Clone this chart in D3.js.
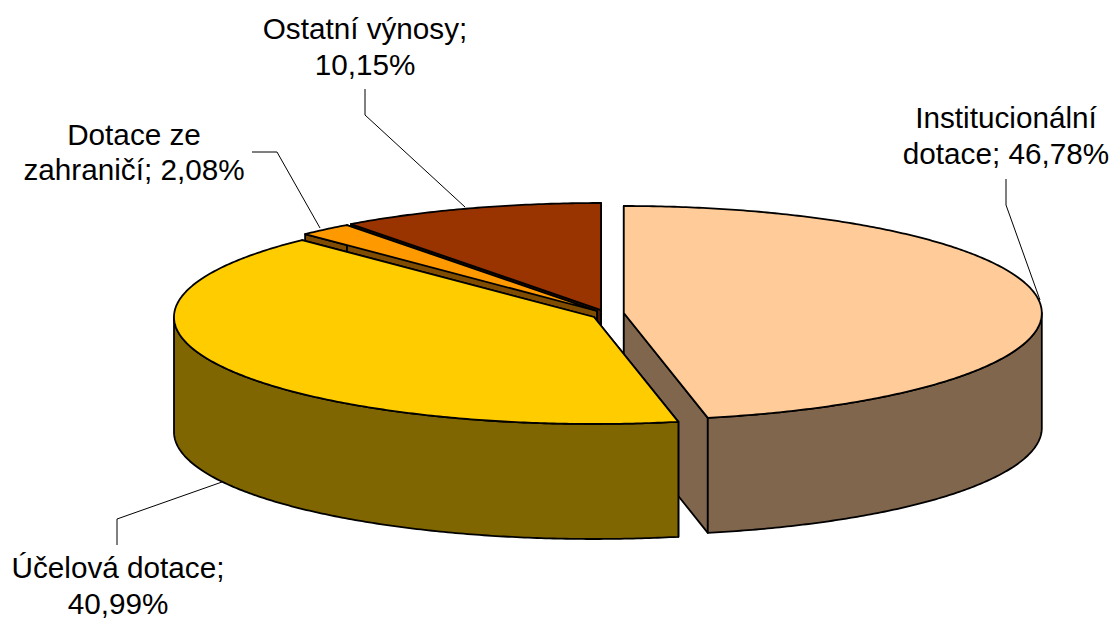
<!DOCTYPE html>
<html>
<head>
<meta charset="utf-8">
<script src="https://cdn.jsdelivr.net/npm/d3@7"></script>
<style>
  html, body { margin: 0; padding: 0; background: #fff; }
  svg { display: block; }
  text { font-family: "Liberation Sans", Arial, sans-serif; font-size: 29.7px; fill: #000; }
</style>
</head>
<body>
<svg width="1113" height="620"></svg>
<script>
var categories = ["Institucionální dotace", "Účelová dotace", "Dotace ze zahraničí", "Ostatní výnosy"];
var shares = [46.78, 40.99, 2.08, 10.15];
var topColors = ["#FFCC99", "#FFCC00", "#FF9900", "#993300"];
var sideColors = ["#80664D", "#806600", "#804D00", "#4C1900"];
var labelLines = [
  ["Institucionální", "dotace; 46,78%"],
  ["Účelová dotace;", "40,99%"],
  ["Dotace ze", "zahraničí; 2,08%"],
  ["Ostatní výnosy;", "10,15%"]
];

// layout, per slice (exploded centres, radii, label anchors, leader lines)
var centers = [[623.8, 313], [594, 317], [597, 311], [601, 310]];
var radiiX = [418, 420, 420, 420];
var labelPos = [[1006, 128], [118, 578], [134, 144.5], [365, 39]];
var leaders = [
  [[1006, 179], [1006, 205], [1040, 300]],
  [[117, 545], [117, 519], [222, 482]],
  [[252, 152], [277, 152], [320, 228]],
  [[365, 89], [365, 115], [465, 207]]
];
var ry = 107, depth = 115;
// back slices first, the yellow one sits over the cut face of the first slice
var drawOrder = [3, 2, 0, 1];

var svg = d3.select("svg");

var pie = d3.pie().sort(null).value(function(d) { return d; });
var arcs = pie(shares);

var line = d3.line();

function pt(i, a, dy) {
  return [centers[i][0] + radiiX[i] * Math.sin(a), centers[i][1] - ry * Math.cos(a) + (dy || 0)];
}

function arcPoints(i, a0, a1, dy) {
  var n = Math.max(2, Math.ceil(Math.abs(a1 - a0) / 0.01));
  return d3.range(n + 1).map(function(k) {
    return pt(i, a0 + (a1 - a0) * k / n, dy);
  });
}

function drawSlice(i) {
  var d = arcs[i];
  var g = svg.append("g").attr("class", "slice");
  var tip = centers[i];
  var tipLow = [tip[0], tip[1] + depth];

  // cut faces
  [d.startAngle, d.endAngle].forEach(function(a) {
    g.append("path")
      .attr("d", line([tip, pt(i, a), pt(i, a, depth), tipLow]) + "Z")
      .attr("fill", sideColors[i])
      .attr("stroke", "#000")
      .attr("stroke-width", 1.8)
      .attr("stroke-linejoin", "round");
  });

  // outer wall, only the part that faces the viewer
  var from = Math.max(d.startAngle, Math.PI / 2);
  var to = Math.min(d.endAngle, Math.PI * 1.5);
  if (to > from) {
    var wall = arcPoints(i, from, to, 0).concat(arcPoints(i, to, from, depth));
    g.append("path")
      .attr("d", line(wall) + "Z")
      .attr("fill", sideColors[i])
      .attr("stroke", "#000")
      .attr("stroke-width", 1.8)
      .attr("stroke-linejoin", "round");
  }

  // top
  g.append("path")
    .attr("d", line([tip].concat(arcPoints(i, d.startAngle, d.endAngle, 0))) + "Z")
    .attr("fill", topColors[i])
    .attr("stroke", "#000")
    .attr("stroke-width", 1.8)
    .attr("stroke-linejoin", "round");
}

drawOrder.forEach(drawSlice);

// leader lines
svg.append("g").selectAll("path")
  .data(leaders)
  .enter().append("path")
  .attr("d", function(d) { return line(d); })
  .attr("fill", "none")
  .attr("stroke", "#000")
  .attr("stroke-width", 1);

// labels
var labels = svg.append("g").selectAll("text")
  .data(labelLines)
  .enter().append("text")
  .attr("text-anchor", "middle")
  .attr("transform", function(d, i) { return "translate(" + labelPos[i] + ")"; });

labels.selectAll("tspan")
  .data(function(d) { return d; })
  .enter().append("tspan")
  .attr("x", 0)
  .attr("y", function(d, k) { return k * 35.5; })
  .text(function(d) { return d; });
</script>
</body>
</html>
